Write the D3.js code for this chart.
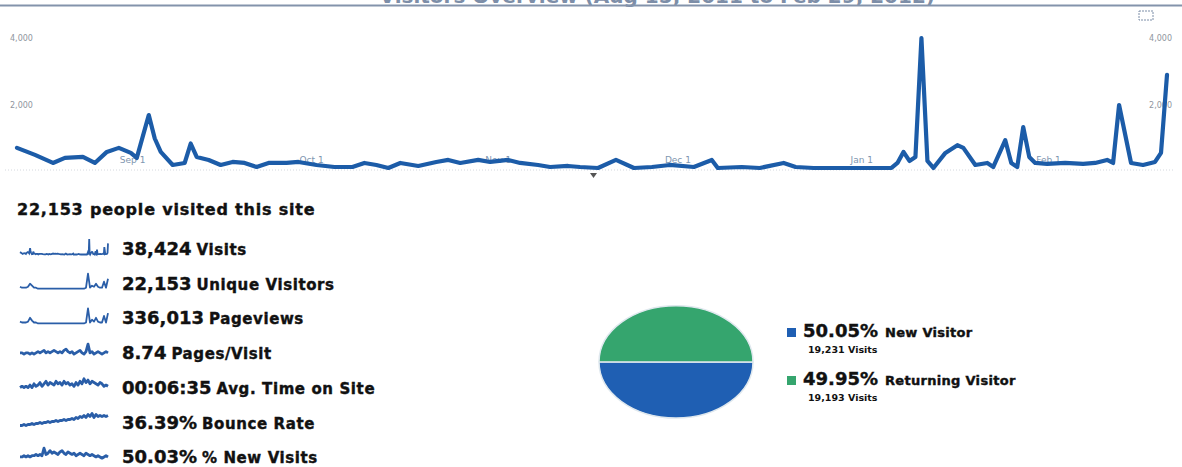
<!DOCTYPE html>
<html>
<head>
<meta charset="utf-8">
<script src="https://cdn.jsdelivr.net/npm/d3@7"></script>
<style>
    html, body { margin: 0; padding: 0; background: #ffffff; }
    svg { display: block; }
</style>
</head>
<body>
<div id="chart"></div>
<script>
// Daily visits
const dates = [
    '2011-08-15', '2011-08-18', '2011-08-21', '2011-08-23', '2011-08-26', '2011-08-28', '2011-08-30',
    '2011-09-01', '2011-09-03', '2011-09-04', '2011-09-06', '2011-09-07', '2011-09-08', '2011-09-10',
    '2011-09-12', '2011-09-13', '2011-09-14', '2011-09-16', '2011-09-18', '2011-09-20', '2011-09-22',
    '2011-09-24', '2011-09-26', '2011-09-29', '2011-10-01', '2011-10-04', '2011-10-07', '2011-10-10',
    '2011-10-12', '2011-10-14', '2011-10-16', '2011-10-18', '2011-10-21', '2011-10-24', '2011-10-26',
    '2011-10-28', '2011-10-31', '2011-11-02', '2011-11-05', '2011-11-07', '2011-11-10', '2011-11-12',
    '2011-11-15', '2011-11-17', '2011-11-20', '2011-11-23', '2011-11-26', '2011-11-29', '2011-12-02',
    '2011-12-06', '2011-12-09', '2011-12-10', '2011-12-14', '2011-12-17', '2011-12-21', '2011-12-23',
    '2011-12-26', '2012-01-01', '2012-01-08', '2012-01-09', '2012-01-10', '2012-01-11', '2012-01-12',
    '2012-01-13', '2012-01-14', '2012-01-15', '2012-01-17', '2012-01-19', '2012-01-20', '2012-01-22',
    '2012-01-24', '2012-01-25', '2012-01-27', '2012-01-28', '2012-01-29', '2012-01-30', '2012-01-31',
    '2012-02-01', '2012-02-03', '2012-02-06', '2012-02-09', '2012-02-11', '2012-02-13', '2012-02-14',
    '2012-02-15', '2012-02-17', '2012-02-19', '2012-02-21', '2012-02-22', '2012-02-23'
];
const visits = [
    720, 510, 270, 420, 450, 270, 600,
    720, 570, 420, 1700, 1000, 600, 210,
    270, 850, 450, 360, 210, 300, 270,
    150, 270, 270, 300, 210, 150, 150,
    270, 210, 120, 270, 180, 300, 360,
    270, 360, 300, 360, 270, 210, 150,
    180, 150, 120, 360, 120, 150, 210,
    150, 360, 120, 150, 120, 270, 150,
    120, 120, 120, 270, 600, 330, 450,
    4000, 330, 120, 570, 800, 720, 210,
    270, 150, 950, 270, 150, 1340, 450,
    270, 240, 270, 240, 270, 360, 270,
    2000, 270, 210, 300, 570, 2900
];

const yTicks = [2000, 4000];
const xTickDates = ['2011-09-01', '2011-10-01', '2011-11-01', '2011-12-01', '2012-01-01', '2012-02-01'];

// Summary metrics
const headline = '22,153 people visited this site';
const statValues = ['38,424', '22,153', '336,013', '8.74', '00:06:35', '36.39%', '50.03%'];
const statLabels = ['Visits', 'Unique Visitors', 'Pageviews', 'Pages/Visit', 'Avg. Time on Site', 'Bounce Rate', '% New Visits'];

// Sparklines for rows 2..7 (row 1 uses the visits series above)
const sparkUnique = [3, 2, 2, 2, 3, 6, 4, 2, 2, 1, 1, 1, 1, 1, 1, 1, 1, 1, 1, 1, 1, 1, 1, 1, 1, 1, 1, 1, 1, 1, 1, 1, 1, 2, 16, 2, 4, 3, 6, 3, 2, 2, 8, 2, 11];
const sparkPageviews = [3, 2, 2, 2, 3, 7, 4, 2, 2, 1, 1, 1, 1, 1, 1, 1, 1, 1, 1, 1, 1, 1, 1, 1, 1, 1, 1, 1, 1, 1, 1, 1, 1, 2, 17, 2, 5, 3, 7, 3, 2, 2, 9, 2, 12];
const sparkPagesPerVisit = [5, 5, 4, 5, 5, 4, 5, 4, 5, 6, 5, 6, 7, 5, 6, 5, 6, 7, 6, 5, 6, 5, 7, 8, 6, 5, 6, 4, 5, 6, 7, 5, 4, 6, 12, 5, 6, 4, 5, 6, 5, 4, 5, 6, 5];
const sparkAvgTime = [5, 6, 5, 6, 5, 7, 5, 8, 6, 7, 9, 6, 8, 10, 7, 9, 8, 7, 10, 8, 9, 7, 10, 8, 9, 7, 8, 6, 9, 7, 10, 8, 12, 9, 11, 8, 10, 9, 8, 7, 9, 8, 6, 7, 6];
const sparkBounce = [3, 3, 4, 3, 4, 4, 5, 4, 5, 5, 6, 5, 6, 6, 7, 6, 7, 7, 8, 7, 8, 8, 9, 8, 9, 9, 10, 9, 11, 10, 12, 11, 13, 11, 14, 12, 15, 11, 14, 12, 13, 12, 13, 12, 13];
const sparkNewVisits = [5, 5, 6, 5, 6, 5, 6, 6, 7, 6, 7, 6, 12, 7, 8, 10, 8, 9, 8, 7, 9, 10, 8, 7, 9, 8, 7, 8, 6, 7, 8, 7, 6, 8, 7, 6, 7, 6, 5, 6, 5, 4, 5, 6, 5];

// Visitor type pie
const pieLabels = ['New Visitor', 'Returning Visitor'];
const piePercents = [50.05, 49.95];
const pieVisits = ['19,231', '19,193'];

const W = 1182, H = 467;
const blue = '#1c5ca8';
const parse = d3.timeParse('%Y-%m-%d');
const fmtTick = d3.timeFormat('%b %-d');

const svg = d3.select('#chart').append('svg')
    .attr('width', W)
    .attr('height', H)
    .attr('font-family', '"DejaVu Sans", sans-serif');

// --- clipped report title + rule at the very top
svg.append('text')
    .attr('x', 935)
    .attr('y', 3)
    .attr('text-anchor', 'end')
    .attr('font-size', 20)
    .attr('font-weight', 'bold')
    .attr('fill', '#7d8ea8')
    .text('Visitors Overview (Aug 15, 2011 to Feb 29, 2012)');
svg.append('line')
    .attr('x1', 0).attr('x2', W)
    .attr('y1', 5.5).attr('y2', 5.5)
    .attr('stroke', '#8393ab')
    .attr('stroke-width', 2);

// little export icon
svg.append('rect')
    .attr('x', 1139).attr('y', 11)
    .attr('width', 14).attr('height', 9)
    .attr('fill', 'none')
    .attr('stroke', '#7d8ea8')
    .attr('stroke-dasharray', '2 1');

// --- main line chart
const x = d3.scaleTime()
    .domain([parse(dates[0]), parse(dates[dates.length - 1])])
    .range([17, 1167]);
const y = d3.scaleLinear()
    .domain([0, 4000])
    .range([172, 38]);

svg.append('line')
    .attr('x1', 5).attr('x2', 1175)
    .attr('y1', 170).attr('y2', 170)
    .attr('stroke', '#d4d8de')
    .attr('stroke-dasharray', '1 2');

const yLab = svg.append('g')
    .attr('font-size', 8)
    .attr('fill', '#8f959e');
yLab.selectAll('text.yl')
    .data(yTicks)
    .join('text')
    .attr('class', 'yl')
    .attr('x', 10)
    .attr('y', (d) => y(d) + 3)
    .text(d3.format(','));
yLab.selectAll('text.yr')
    .data(yTicks)
    .join('text')
    .attr('class', 'yr')
    .attr('x', 1172)
    .attr('text-anchor', 'end')
    .attr('y', (d) => y(d) + 3)
    .text(d3.format(','));

svg.append('g')
    .attr('font-size', 9)
    .attr('fill', '#8096b0')
    .selectAll('text')
    .data(xTickDates)
    .join('text')
    .attr('x', (d) => x(parse(d)) + 1)
    .attr('y', 163)
    .text((d) => fmtTick(parse(d)));

// annotation marker
svg.append('path')
    .attr('d', 'M590,173 L597,173 L593.5,178 Z')
    .attr('fill', '#555');

const line = d3.line()
    .x((d, i) => x(parse(dates[i])))
    .y((d) => y(d));
svg.append('path')
    .datum(visits)
    .attr('d', line)
    .attr('fill', 'none')
    .attr('stroke', blue)
    .attr('stroke-width', 4.2)
    .attr('stroke-linejoin', 'round')
    .attr('stroke-linecap', 'round');

// --- summary block
svg.append('text')
    .attr('x', 17)
    .attr('y', 215)
    .attr('font-size', 16)
    .attr('font-weight', 'bold')
    .attr('letter-spacing', 0.8)
    .attr('fill', '#111')
    .attr('stroke', '#111')
    .attr('stroke-width', 0.4)
    .text(headline);

const rowBase = (i) => 255 + i * 34.7;
const rows = svg.append('g');
statValues.forEach((v, i) => {
    const t = rows.append('text')
        .attr('x', 122)
        .attr('y', rowBase(i))
        .attr('font-weight', 'bold')
        .attr('fill', '#111')
        .attr('stroke', '#111')
        .attr('stroke-width', 0.4);
    t.append('tspan').attr('font-size', 18).text(v);
    t.append('tspan').attr('dx', 5).attr('font-size', 15).attr('letter-spacing', 0.6).text(statLabels[i]);
});

// sparklines
const sx0 = 20, sx1 = 108;
function spark(values, i, flat) {
    const base = rowBase(i);
    const sx = d3.scaleLinear().domain([0, values.length - 1]).range([sx0, sx1]);
    const sy = d3.scaleLinear()
        .domain([0, d3.max(values)])
        .range(flat ? [base, base - 16] : [base, base - 15]);
    rows.append('path')
        .datum(values)
        .attr('d', d3.line().x((d, k) => sx(k)).y((d) => sy(d)))
        .attr('fill', 'none')
        .attr('stroke', '#2a5ea8')
        .attr('stroke-width', flat ? 1.8 : 2.8)
        .attr('stroke-linejoin', 'round');
}
{
    const base = rowBase(0);
    const sx = d3.scaleTime().domain(x.domain()).range([sx0, sx1]);
    const sy = d3.scaleLinear().domain([0, 4000]).range([base, base - 16]);
    rows.append('path')
        .datum(visits)
        .attr('d', d3.line().x((d, k) => sx(parse(dates[k]))).y((d) => sy(d)))
        .attr('fill', 'none')
        .attr('stroke', '#2a5ea8')
        .attr('stroke-width', 1.8);
}
spark(sparkUnique, 1, true);
spark(sparkPageviews, 2, true);
spark(sparkPagesPerVisit, 3, false);
spark(sparkAvgTime, 4, false);
spark(sparkBounce, 5, false);
spark(sparkNewVisits, 6, false);

// --- pie (drawn as a flattened ellipse)
const pieColors = ['#1f5fb3', '#35a56e'];
const pie = d3.pie().sort(null).startAngle(Math.PI / 2).endAngle(Math.PI / 2 + 2 * Math.PI);
const arc = d3.arc().innerRadius(0).outerRadius(77);
svg.append('g')
    .attr('transform', 'translate(676,362) scale(1,0.73)')
    .selectAll('path')
    .data(pie(piePercents))
    .join('path')
    .attr('d', arc)
    .attr('fill', (d, i) => pieColors[i])
    .attr('stroke', '#dfe8ee')
    .attr('stroke-width', 1.5)
    .attr('vector-effect', 'non-scaling-stroke');

const legend = svg.append('g').attr('font-weight', 'bold').attr('fill', '#111');
pieLabels.forEach((name, i) => {
    const base = 337 + i * 48;
    legend.append('rect')
        .attr('x', 787).attr('y', base - 9)
        .attr('width', 9).attr('height', 9)
        .attr('fill', pieColors[i]);
    const t = legend.append('text')
        .attr('x', 803).attr('y', base)
        .attr('stroke', '#111')
        .attr('stroke-width', 0.4);
    t.append('tspan').attr('font-size', 18).text(`${piePercents[i].toFixed(2)}%`);
    t.append('tspan').attr('dx', 7).attr('font-size', 13).attr('letter-spacing', 0.3).text(name);
    legend.append('text')
        .attr('x', 808).attr('y', base + 16)
        .attr('font-size', 9.5)
        .text(`${pieVisits[i]} Visits`);
});
</script>
</body>
</html>
